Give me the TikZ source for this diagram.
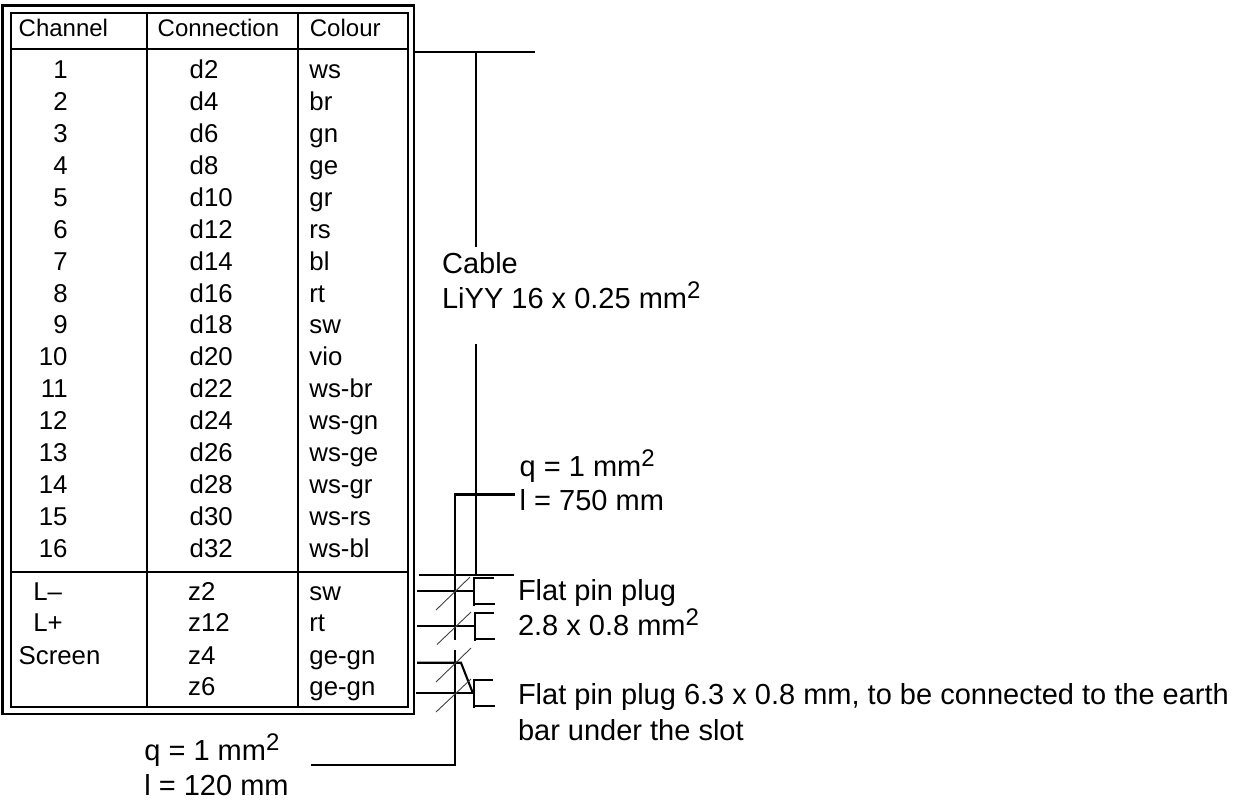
\documentclass[tikz,border=0pt]{standalone}
\usepackage{fontspec}
\setmainfont{Liberation Sans}
\tikzset{
  x=0.5pt,y=-0.5pt,
  head/.style={inner sep=0pt,anchor=base west,font=\fontsize{12}{14}\selectfont},
  txt/.style={inner sep=0pt,anchor=base west,font=\fontsize{12.9}{15}\selectfont},
  num/.style={inner sep=0pt,anchor=base east,font=\fontsize{12.9}{15}\selectfont},
  big/.style={inner sep=0pt,anchor=base west,font=\fontsize{14.5}{17}\selectfont},
  wire/.style={line width=1.05pt,black,line cap=butt},
  tick/.style={line width=0.45pt,black!75},
  frame/.style={line width=1.25pt,black},
  cell/.style={line width=1.05pt,black}
}
\newcommand{\rowline}[4]{%
  \node[num] (ch#1) at (68,#1) {#2};
  \node[txt] (co#1) at (189.3,#1) {#3};
  \node[txt] (cl#1) at (309,#1) {#4};}
\newcommand{\sqr}{\raisebox{5pt}{\fontsize{12}{12}\selectfont 2}}
\begin{document}
\begin{tikzpicture}
\useasboundingbox (0,0) rectangle (1245,800);
% table
\draw[frame] (2.7,5.7) rectangle (414,714);
\draw[cell] (10.7,13) rectangle (408,707);
\draw[cell] (146.7,13) -- (146.7,707);
\draw[cell] (297.7,13) -- (297.7,707);
\draw[cell] (10.7,49) -- (408,49);
\draw[cell] (10.7,572) -- (408,572);
\node[head] (h1) at (18.3,36) {Channel};
\node[head] (h2) at (157.3,36) {Connection};
\node[head] (h3) at (309.5,36) {Colour};
\rowline{78.3}{1}{d2}{ws}
\rowline{110.2}{2}{d4}{br}
\rowline{142.2}{3}{d6}{gn}
\rowline{174.1}{4}{d8}{ge}
\rowline{206.1}{5}{d10}{gr}
\rowline{238}{6}{d12}{rs}
\rowline{270}{7}{d14}{bl}
\rowline{302}{8}{d16}{rt}
\rowline{333.9}{9}{d18}{sw}
\rowline{365.9}{10}{d20}{vio}
\rowline{397.8}{11}{d22}{ws-br}
\rowline{429.8}{12}{d24}{ws-gn}
\rowline{461.7}{13}{d26}{ws-ge}
\rowline{493.7}{14}{d28}{ws-gr}
\rowline{525.6}{15}{d30}{ws-rs}
\rowline{557.5}{16}{d32}{ws-bl}
\node[txt] (c17) at (33,600) {L–};
\node[txt] (d17) at (187.7,600) {z2};
\node[txt] (e17) at (309,600) {sw};
\node[txt] (c18) at (33,631.7) {L+};
\node[txt] (d18) at (187.7,631.7) {z12};
\node[txt] (e18) at (309,631.7) {rt};
\node[txt] (c19) at (18.3,664) {Screen};
\node[txt] (d19) at (187.7,664) {z4};
\node[txt] (e19) at (309,664) {ge-gn};
\node[txt] (d20) at (187.7,695.7) {z6};
\node[txt] (e20) at (309,695.7) {ge-gn};
% cable
\coordinate (ct) at (476,52);
\coordinate (cu) at (476,247);
\coordinate (cv) at (476,344);
\coordinate (cb) at (476,575);
\draw[wire] (415,52) -- (535,52);
\draw[wire] (ct) -- (cu);
\draw[wire] (cv) -- (cb);
\draw[wire] (419,575) -- (514,575);
\node[big] (cab1) at (441.7,273) {Cable};
\node[big] (cab2) at (441.7,308) {LiYY 16 x 0.25 mm\sqr};
\node[big] (q1) at (519.3,476) {q = 1 mm\sqr};
\node[big] (l1) at (519.3,510.7) {l = 750 mm};
% earth wire
\coordinate (ea) at (515,494.5);
\coordinate (eb) at (455,494.5);
\coordinate (ec) at (455,640);
\coordinate (ed) at (455,650);
\coordinate (ee) at (455,765);
\coordinate (ef) at (311,765);
\draw[wire] (ea) -- (eb) -- (ec);
\draw[wire] (ed) -- (ee) -- (ef);
\node[big] (q2) at (144,760) {q = 1 mm\sqr};
\node[big] (l2) at (144,795) {l = 120 mm};
% wires
\draw[wire] (417,590.7) -- (474,590.7);
\draw[wire] (417,625.7) -- (475,625.7);
\draw[wire] (417,662.7) -- (461,662.7) -- (472.7,692.7);
\draw[wire] (416,692.7) -- (474,692.7);
% plugs
\draw[wire] (494,578) -- (474,578) -- (474,606);
\draw[wire] (474,604) -- (495,604);
\draw[wire] (494,612.7) -- (475,612.7) -- (475,640.5);
\draw[wire] (475,639) -- (495,639);
\draw[wire] (492.5,680) -- (474,680) -- (474,707.5);
\draw[wire] (474,706) -- (495,706);
% ticks
\draw[tick] (436,610) -- (470,577);
\draw[tick] (437,644.5) -- (471,612);
\draw[tick] (436,682) -- (471,648);
\draw[tick] (436,712) -- (471,679);
\node[big] (p1) at (517.6,600.7) {Flat pin plug};
\node[big] (p2) at (517.6,635) {2.8 x 0.8 mm\sqr};
\node[big] (p3) at (517.6,704) {Flat pin plug 6.3 x 0.8 mm, to be connected to the earth};
\node[big] (p4) at (517.6,740.7) {bar under the slot};
\end{tikzpicture}
\end{document}
